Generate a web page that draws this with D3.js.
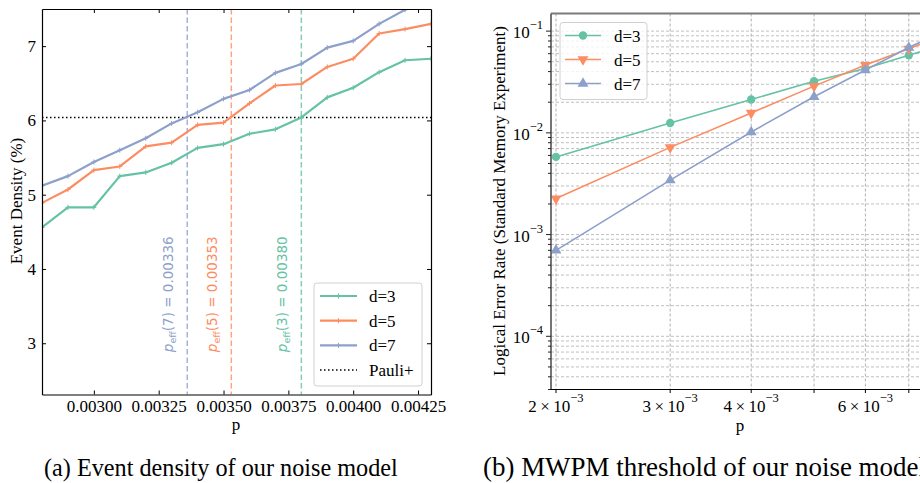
<!DOCTYPE html>
<html>
<head>
<meta charset="utf-8">
<script src="https://cdn.jsdelivr.net/npm/d3@7"></script>
<style>
  body { margin: 0; background: #fff; }
  svg { display: block; }
  text { font-family: "Liberation Serif", "Times New Roman", serif; fill: #000; }
</style>
</head>
<body>
<svg id="chart" width="920" height="483"></svg>
<script>
// ---- data, panel (a): event density
const pDensity = [0.0028, 0.0029, 0.0030, 0.0031, 0.0032, 0.0033, 0.0034, 0.0035,
                  0.0036, 0.0037, 0.0038, 0.0039, 0.0040, 0.0041, 0.0042, 0.0043];
const density3 = [4.56, 4.83, 4.83, 5.25, 5.30, 5.43, 5.63, 5.68, 5.82, 5.88, 6.04, 6.31, 6.44, 6.65, 6.81, 6.83];
const density5 = [4.89, 5.07, 5.33, 5.38, 5.65, 5.70, 5.94, 5.97, 6.23, 6.47, 6.49, 6.72, 6.83, 7.17, 7.23, 7.30];
const density7 = [5.12, 5.25, 5.44, 5.60, 5.76, 5.96, 6.11, 6.29, 6.41, 6.64, 6.76, 6.98, 7.07, 7.30, 7.49, 7.70];
const pauliPlus = 6.04;
const thresholds = [{d: 7, p: 0.00336}, {d: 5, p: 0.00353}, {d: 3, p: 0.00380}];
const densityTicksX = [0.00300, 0.00325, 0.00350, 0.00375, 0.00400, 0.00425];
const densityTicksY = [3, 4, 5, 6, 7];

// ---- data, panel (b): logical error rate
const pLer = [0.002, 0.003, 0.004, 0.005, 0.006, 0.007, 0.008];
const ler3 = [5.8e-3, 1.25e-2, 2.13e-2, 3.22e-2, 4.30e-2, 5.8e-2, 7.5e-2];
const ler5 = [2.26e-3, 7.2e-3, 1.57e-2, 2.88e-2, 4.64e-2, 6.7e-2, 9.4e-2];
const ler7 = [7.0e-4, 3.43e-3, 1.02e-2, 2.26e-2, 4.14e-2, 6.9e-2, 1.03e-1];
const lerTicksX = [2, 3, 4, 6];          // labelled, x 10^-3
const lerGridX = [2, 3, 4, 5, 6, 7];
const lerDecades = [-4, -3, -2, -1];

const colors = {3: "#66c2a5", 5: "#fc8d62", 7: "#8da0cb"};
const distances = [3, 5, 7];

const svg = d3.select("#chart");

// ================= panel (a) =================
function drawDensity() {
  const x = d3.scaleLinear().domain([0.0028, 0.0043]).range([42, 431]);
  const y = d3.scaleLinear().domain([2.31, 7.5]).range([394.5, 9]);
  const g = svg.append("g");

  g.append("clipPath").attr("id", "clipA")
    .append("rect").attr("x", 42).attr("y", 9).attr("width", 389).attr("height", 385.5);

  const plot = g.append("g").attr("clip-path", "url(#clipA)");

  // Pauli+ reference
  plot.append("line")
    .attr("x1", 42).attr("x2", 431)
    .attr("y1", y(pauliPlus)).attr("y2", y(pauliPlus))
    .attr("stroke", "#000").attr("stroke-width", 1.5).attr("stroke-dasharray", "1.5,2.5");

  // threshold markers
  thresholds.forEach(t => {
    plot.append("line")
      .attr("x1", x(t.p)).attr("x2", x(t.p))
      .attr("y1", 9).attr("y2", 394.5)
      .attr("stroke", colors[t.d]).attr("stroke-width", 1.5)
      .attr("stroke-dasharray", "5.5,3").attr("opacity", 0.8);

    const lbl = g.append("text")
      .attr("transform", `translate(${x(t.p) - 14},${y(2.88)}) rotate(-90)`)
      .style("font-family", "'DejaVu Sans', sans-serif")
      .style("font-size", "13.5px")
      .style("fill", colors[t.d]);
    lbl.append("tspan").style("font-style", "italic").text("p");
    lbl.append("tspan").attr("dy", 3).style("font-size", "9.5px").text("eff");
    lbl.append("tspan").attr("dy", -3).text(`(${t.d}) = ${t.p.toFixed(5)}`);
  });

  const series = {3: density3, 5: density5, 7: density7};
  const line = d3.line().x((d, i) => x(pDensity[i])).y(d => y(d));
  distances.forEach(d => {
    plot.append("path")
      .datum(series[d])
      .attr("d", line)
      .attr("fill", "none")
      .attr("stroke", colors[d]).attr("stroke-width", 2.2)
      .attr("stroke-linejoin", "round");
    plot.selectAll(null)
      .data(series[d])
      .join("path")
      .attr("transform", (v, i) => `translate(${x(pDensity[i])},${y(v)})`)
      .attr("d", "M-2.5,0H2.5M0,-2.5V2.5")
      .attr("stroke", colors[d]).attr("stroke-width", 1);
  });

  // axes with inward ticks on all sides
  const axB = d3.axisBottom(x).tickValues(densityTicksX).tickFormat(d3.format(".5f")).tickSizeInner(-4).tickSizeOuter(0).tickPadding(5);
  const axT = d3.axisTop(x).tickValues(densityTicksX).tickFormat("").tickSizeInner(-4).tickSizeOuter(0);
  const axL = d3.axisLeft(y).tickValues(densityTicksY).tickFormat(d3.format("d")).tickSizeInner(-4).tickSizeOuter(0).tickPadding(6);
  const axR = d3.axisRight(y).tickValues(densityTicksY).tickFormat("").tickSizeInner(-4).tickSizeOuter(0);

  [[axB, `translate(0,394.5)`], [axT, `translate(0,9)`], [axL, `translate(42,0)`], [axR, `translate(431,0)`]]
    .forEach(([ax, tr]) => {
      const a = g.append("g").attr("transform", tr).call(ax);
      a.select(".domain").attr("stroke", "#000").attr("stroke-width", 1.2);
      a.selectAll(".tick line").attr("stroke", "#000");
      a.selectAll("text").style("font-family", "'Liberation Serif', serif").style("font-size", "17px").attr("fill", "#000");
    });

  g.append("text")
    .attr("transform", "translate(22,201) rotate(-90)")
    .attr("text-anchor", "middle").style("font-size", "17px")
    .text("Event Density (%)");
  g.append("text")
    .attr("x", 236).attr("y", 430)
    .attr("text-anchor", "middle").style("font-size", "17px")
    .text("p");

  // legend
  const lg = g.append("g").attr("transform", "translate(314,283)");
  lg.append("rect").attr("width", 108).attr("height", 103).attr("rx", 3)
    .attr("fill", "#fff").attr("fill-opacity", 0.8).attr("stroke", "#d0d0d0");
  const items = [
    {label: "d=3", color: colors[3], dash: null, w: 2.2, plus: true},
    {label: "d=5", color: colors[5], dash: null, w: 2.2, plus: true},
    {label: "d=7", color: colors[7], dash: null, w: 2.2, plus: true},
    {label: "Pauli+", color: "#000", dash: "1.5,2.5", w: 1.5, plus: false}
  ];
  items.forEach((it, i) => {
    const cy = 13 + i * 24.7;
    lg.append("line").attr("x1", 6).attr("x2", 43).attr("y1", cy).attr("y2", cy)
      .attr("stroke", it.color).attr("stroke-width", it.w).attr("stroke-dasharray", it.dash);
    if (it.plus) {
      lg.append("path").attr("transform", `translate(24.5,${cy})`)
        .attr("d", "M-2.5,0H2.5M0,-2.5V2.5").attr("stroke", it.color).attr("stroke-width", 1);
    }
    lg.append("text").attr("x", 55).attr("y", cy + 6).style("font-size", "17px").text(it.label);
  });
}

// ================= panel (b) =================
function drawLer() {
  const x = d3.scaleLog().domain([1.965e-3, 7.52e-3]).range([551, 929]);
  const y = d3.scaleLog().domain([3e-5, 0.149]).range([389.5, 13.5]);
  const g = svg.append("g");

  g.append("clipPath").attr("id", "clipB")
    .append("rect").attr("x", 551).attr("y", 13.5).attr("width", 378).attr("height", 376);

  const grid = g.append("g").attr("clip-path", "url(#clipB)");
  const gridY = [];
  lerDecades.forEach(e => {
    for (let m = 1; m <= 9; m++) gridY.push(m * Math.pow(10, e));
  });
  gridY.push(3e-5, 4e-5, 5e-5, 6e-5, 7e-5, 8e-5, 9e-5);
  const yLines = gridY.filter(v => v >= 3e-5 && v <= 0.149);
  grid.selectAll(".gy").data(yLines).join("line")
    .attr("x1", 551).attr("x2", 929)
    .attr("y1", d => y(d)).attr("y2", d => y(d))
    .attr("stroke", "#b8b8b8").attr("stroke-width", 0.9).attr("stroke-dasharray", "3,2");
  grid.selectAll(".gx").data(lerGridX).join("line")
    .attr("x1", d => x(d * 1e-3)).attr("x2", d => x(d * 1e-3))
    .attr("y1", 13.5).attr("y2", 389.5)
    .attr("stroke", "#a8a8a8").attr("stroke-width", 0.9).attr("stroke-dasharray", "3,2");

  const series = {3: ler3, 5: ler5, 7: ler7};
  const symbols = {3: d3.symbolCircle, 5: d3.symbolTriangle, 7: d3.symbolTriangle};
  const symSize = {3: 55, 5: 52, 7: 52};
  const line = d3.line().x((d, i) => x(pLer[i])).y(d => y(d));
  const plot = g.append("g").attr("clip-path", "url(#clipB)");
  distances.forEach(d => {
    plot.append("path").datum(series[d]).attr("d", line)
      .attr("fill", "none").attr("stroke", colors[d]).attr("stroke-width", 1.6);
    plot.selectAll(null).data(series[d]).join("path")
      .attr("transform", (v, i) => `translate(${x(pLer[i])},${y(v)})` + (d === 5 ? " rotate(180)" : ""))
      .attr("d", d3.symbol().type(symbols[d]).size(symSize[d]))
      .attr("fill", colors[d]);
  });

  // spines
  g.append("line").attr("x1", 551).attr("x2", 929).attr("y1", 13.5).attr("y2", 13.5)
    .attr("stroke", "#7a7a7a").attr("stroke-width", 1.8);
  g.append("line").attr("x1", 551).attr("x2", 551).attr("y1", 13.5).attr("y2", 389.5)
    .attr("stroke", "#666").attr("stroke-width", 1.8);
  g.append("line").attr("x1", 551).attr("x2", 929).attr("y1", 389.5).attr("y2", 389.5)
    .attr("stroke", "#000").attr("stroke-width", 1.2);

  // y ticks (major + minor)
  const yt = g.append("g");
  yt.selectAll("line").data(yLines).join("line")
    .attr("x1", d => 551 - (Math.abs(Math.log10(d) - Math.round(Math.log10(d))) < 1e-9 ? 5 : 3))
    .attr("x2", 551).attr("y1", d => y(d)).attr("y2", d => y(d))
    .attr("stroke", "#222").attr("stroke-width", 1);
  lerDecades.forEach(e => {
    const t = yt.append("text").attr("x", 543).attr("y", y(Math.pow(10, e)) + 7)
      .attr("text-anchor", "end").style("font-size", "17px");
    t.append("tspan").text("10");
    t.append("tspan").attr("dy", -9).style("font-size", "12.5px").text("\u2212" + (-e));
  });

  // x ticks
  const xt = g.append("g");
  xt.selectAll("line").data(lerGridX).join("line")
    .attr("x1", d => x(d * 1e-3)).attr("x2", d => x(d * 1e-3))
    .attr("y1", 389.5).attr("y2", 393)
    .attr("stroke", "#000");
  lerTicksX.forEach(m => {
    const t = xt.append("text").attr("x", x(m * 1e-3)).attr("y", 412)
      .attr("text-anchor", "middle").style("font-size", "17px");
    t.append("tspan").text(`${m}\u2009\u00d7\u200910`);
    t.append("tspan").attr("dy", -10).style("font-size", "12.5px").text("\u22123");
  });

  g.append("text")
    .attr("transform", "translate(505,201) rotate(-90)")
    .attr("text-anchor", "middle").style("font-size", "17px")
    .text("Logical Error Rate (Standard Memory Experiment)");
  g.append("text").attr("x", 740).attr("y", 431)
    .attr("text-anchor", "middle").style("font-size", "17px").text("p");

  // legend
  const lg = g.append("g").attr("transform", "translate(560,22.5)");
  lg.append("rect").attr("width", 87).attr("height", 77).attr("rx", 3)
    .attr("fill", "#fff").attr("fill-opacity", 0.8).attr("stroke", "#d0d0d0");
  distances.forEach((d, i) => {
    const cy = 13 + i * 24;
    lg.append("line").attr("x1", 5).attr("x2", 41).attr("y1", cy).attr("y2", cy)
      .attr("stroke", colors[d]).attr("stroke-width", 1.6);
    lg.append("path")
      .attr("transform", `translate(23,${cy})` + (d === 5 ? " rotate(180)" : ""))
      .attr("d", d3.symbol().type(symbols[d]).size(symSize[d]))
      .attr("fill", colors[d]);
    lg.append("text").attr("x", 54).attr("y", cy + 6).style("font-size", "17px").text(`d=${d}`);
  });
}

drawDensity();
drawLer();

// captions, sized to the widths seen in the reference
function caption(txt, x0, width) {
  const t = svg.append("text").attr("x", x0).attr("y", 476)
    .style("font-family", "'Liberation Serif', serif").style("font-size", "20px").text(txt);
  const len = t.node().getComputedTextLength();
  t.style("font-size", (20 * width / len).toFixed(2) + "px");
  return t;
}
caption("(a) Event density of our noise model", 44, 354);
caption("(b) MWPM threshold of our noise model", 483, 443);
</script>
</body>
</html>
